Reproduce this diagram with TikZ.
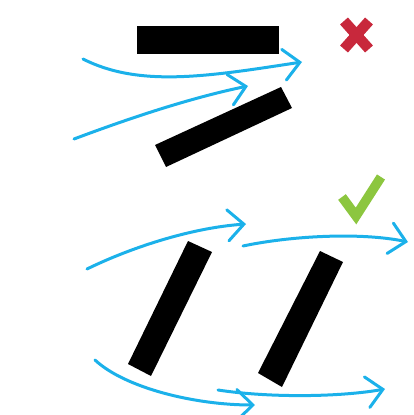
\documentclass[tikz,border=0pt]{standalone}
\usetikzlibrary{arrows.meta}
\definecolor{flowblue}{HTML}{1BB1EA}
\definecolor{xred}{HTML}{C8283C}
\definecolor{okgreen}{HTML}{8CC63F}
\tikzset{
  flow/.style={draw=flowblue, line width=3pt, line cap=round, -{Straight Barb[length=16pt,width=31pt,line cap=round]}},
  plate/.style={fill=black},
}
\begin{document}
\begin{tikzpicture}[x=1pt,y=-1pt]
\useasboundingbox (0,0) rectangle (414,415);
% plates
\fill[plate] (137,26) rectangle (279,54);
\fill[plate] (155,145) -- (281,87) -- (292,108) -- (166,167) -- cycle;
\fill[plate] (188,241) -- (212,252) -- (151,376) -- (128,364) -- cycle;
\fill[plate] (320,251) -- (343,262) -- (282,387) -- (258,373) -- cycle;
% flows
\draw[flow] (83,59) .. controls (140,88) and (210,76) .. (302,62);
\draw[flow] (74,139) .. controls (130,118) and (190,98) .. (248,86);
\draw[flow] (87,269) .. controls (130,248) and (190,228) .. (246,224);
\draw[flow] (243,246) .. controls (290,236) and (360,232) .. (408,242);
\draw[flow] (95,360) .. controls (125,388) and (195,405) .. (255,405);
\draw[flow] (218,390) .. controls (270,398) and (340,397) .. (385,389);
% marks
\draw[xred, line width=10.5pt] (344,21) -- (369,49) (369,21) -- (344,49);
\draw[okgreen, line width=9.5pt, line join=miter] (342,197) -- (356,216) -- (381,177);
\end{tikzpicture}
\end{document}
